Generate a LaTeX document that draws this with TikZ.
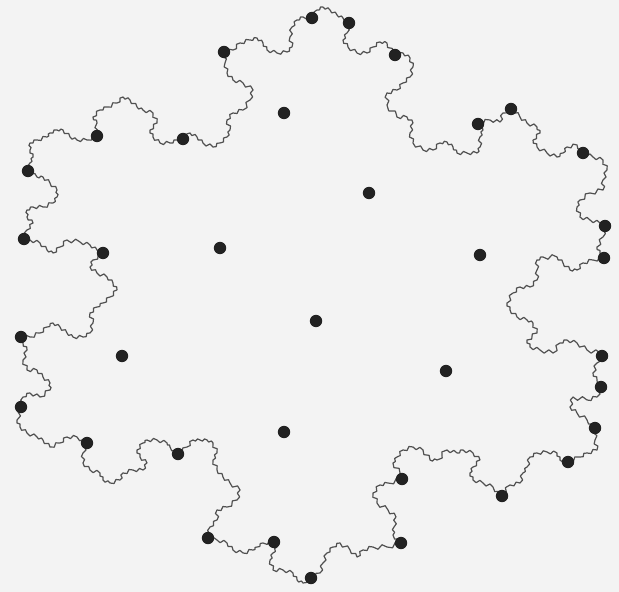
\documentclass[tikz,border=0pt]{standalone}
\usepackage{xcolor}
\usepackage{tikz}
\usetikzlibrary{decorations}
\definecolor{flakeInk}{HTML}{505050}
\definecolor{flakeDot}{HTML}{222222}
\definecolor{flakePaper}{HTML}{F3F3F3}
% one Gosper-like step on every straight piece
\pgfdeclaredecoration{gosper edge}{draw}{
  \state{draw}[width=\pgfdecoratedinputsegmentremainingdistance]{
    \pgfpathlineto{\pgfpointorigin}
    \pgfpathlineto{\pgfpoint{.357143\pgfdecoratedinputsegmentremainingdistance}
                            {-.16\pgfdecoratedinputsegmentremainingdistance}}
    \pgfpathlineto{\pgfpoint{.642857\pgfdecoratedinputsegmentremainingdistance}
                            {.16\pgfdecoratedinputsegmentremainingdistance}}
    \pgfpathlineto{\pgfpoint{\pgfdecoratedinputsegmentremainingdistance}{0pt}}
  }
  \state{final}{\pgfpathlineto{\pgfpointdecoratedpathlast}}
}
\tikzset{
  flakeline/.style={draw=flakeInk,line width=0.6pt,line join=round,
                    decorate,decoration={gosper edge}},
  site/.style={circle,fill=flakeDot,minimum size=6.2pt,inner sep=0pt},
  paper/.style={fill=flakePaper}
}

\begin{document}
\begin{tikzpicture}[x=0.5pt,y=-0.5pt]
  \fill[paper] (0,0) rectangle (619,592);
  \useasboundingbox (0,0) rectangle (619,592);

  % the island boundary, clockwise from the top
  \draw[flakeline]
    (312,18) -- (317,10) -- (323,7) -- (330,10) -- (337,15) -- (343,18) -- (349,23)
    -- (347,33) -- (343,40) -- (348,47) -- (357,53) -- (367,53) -- (373,47) -- (380,42)
    -- (387,43) -- (393,53) -- (395,55)
    -- (403,53) -- (410,58) -- (413,67) -- (410,77) -- (403,83) -- (397,90) -- (387,93)
    -- (387,105) -- (397,117) -- (407,117) -- (413,123) -- (410,133) -- (413,143)
    -- (423,150) -- (433,150) -- (440,143) -- (447,142) -- (453,147) -- (457,153)
    -- (467,153) -- (477,153) -- (480,147) -- (480,137) -- (483,130) -- (478,124)
    -- (490,120) -- (500,122) -- (503,113) -- (511,109) -- (520,117) -- (527,123)
    -- (537,127) -- (540,133) -- (533,140) -- (537,147) -- (547,153) -- (557,157)
    -- (563,153) -- (567,147) -- (577,145) -- (583,153)
    -- (593,157) -- (603,160) -- (607,170) -- (603,180) -- (603,190) -- (590,193)
    -- (580,200) -- (577,207) -- (580,217) -- (590,220) -- (600,223) -- (605,226)
    -- (603,237) -- (597,247) -- (600,253) -- (604,258)
    -- (593,260) -- (583,263) -- (577,270) -- (570,270) -- (563,263) -- (557,257)
    -- (543,257) -- (537,260) -- (537,270) -- (537,280) -- (530,287) -- (520,287)
    -- (513,293) -- (507,303) -- (510,310) -- (517,317) -- (527,320) -- (533,323)
    -- (537,333) -- (527,340) -- (530,347) -- (540,350) -- (553,353) -- (560,343)
    -- (567,340) -- (577,343) -- (587,350) -- (600,353) -- (602,356)
    -- (597,363) -- (593,373) -- (597,380) -- (601,387) -- (597,397) -- (587,400)
    -- (573,397) -- (570,407) -- (577,413) -- (587,420) -- (595,428)
    -- (595,440) -- (597,450) -- (587,453) -- (580,457) -- (568,462) -- (560,460)
    -- (557,453) -- (547,452) -- (537,453) -- (530,457) -- (527,467) -- (523,473)
    -- (520,483) -- (510,485) -- (502,496)
    -- (493,487) -- (483,483) -- (473,480) -- (470,473) -- (473,467) -- (480,460)
    -- (473,453) -- (463,450) -- (457,453) -- (447,450) -- (437,460) -- (430,460)
    -- (423,450) -- (413,447) -- (403,450) -- (397,457) -- (393,463) -- (400,473)
    -- (402,479)
    -- (388,483) -- (380,485) -- (373,493) -- (377,503) -- (388,510) -- (396,517)
    -- (394,527) -- (393,535) -- (401,543)
    -- (387,547) -- (373,547) -- (363,550) -- (357,557) -- (350,550) -- (340,543)
    -- (333,547) -- (327,553) -- (323,563) -- (320,573) -- (311,578)
    -- (303,583) -- (297,580) -- (293,573) -- (283,570) -- (273,570) -- (270,560)
    -- (273,553) -- (277,547) -- (274,542)
    -- (263,543) -- (257,547) -- (253,550) -- (243,553) -- (233,550) -- (227,543)
    -- (217,540) -- (208,538)
    -- (210,527) -- (217,520) -- (217,510) -- (227,507) -- (237,500) -- (240,490)
    -- (230,483) -- (223,477) -- (217,470) -- (213,460) -- (217,453) -- (213,443)
    -- (207,440) -- (200,440) -- (193,440) -- (187,447) -- (178,454)
    -- (170,447) -- (167,443) -- (157,440) -- (147,440) -- (143,443) -- (137,450)
    -- (140,457) -- (147,463) -- (143,470) -- (133,470) -- (123,473) -- (120,480)
    -- (110,483) -- (103,480) -- (100,473) -- (90,470) -- (83,463) -- (83,453)
    -- (87,443)
    -- (77,437) -- (67,437) -- (60,443) -- (50,447) -- (43,440) -- (37,437)
    -- (27,433) -- (20,427) -- (17,420) -- (21,407)
    -- (23,397) -- (30,393) -- (40,397) -- (50,390) -- (50,383) -- (43,377)
    -- (37,370) -- (27,370) -- (23,360) -- (27,350) -- (23,343) -- (21,337)
    -- (30,337) -- (40,333) -- (47,327) -- (53,323) -- (60,327) -- (67,333)
    -- (73,337) -- (83,337) -- (90,333) -- (93,323) -- (90,313) -- (97,307)
    -- (103,303) -- (110,297) -- (117,290) -- (113,283) -- (107,277) -- (97,273)
    -- (90,267) -- (93,260) -- (103,253)
    -- (97,250) -- (90,245) -- (80,242) -- (67,240) -- (60,247) -- (53,253)
    -- (47,250) -- (40,243) -- (30,240) -- (24,239)
    -- (27,230) -- (33,223) -- (27,217) -- (27,210) -- (33,207) -- (43,207)
    -- (53,203) -- (57,197) -- (57,190) -- (50,183) -- (43,177) -- (37,177)
    -- (28,171)
    -- (30,163) -- (33,157) -- (30,150) -- (30,143) -- (37,140) -- (47,137)
    -- (50,133) -- (57,130) -- (63,130) -- (70,137) -- (77,140) -- (87,140)
    -- (97,136)
    -- (97,123) -- (93,117) -- (100,110) -- (107,107) -- (117,103) -- (123,97)
    -- (130,100) -- (137,107) -- (143,110) -- (153,113) -- (157,123) -- (150,130)
    -- (153,137) -- (160,143) -- (170,143) -- (177,140) -- (183,139)
    -- (190,133) -- (197,137) -- (203,143) -- (213,147) -- (220,143) -- (227,137)
    -- (230,130) -- (227,120) -- (233,113) -- (243,110) -- (250,100) -- (253,90)
    -- (243,83) -- (233,80) -- (227,73) -- (225,63) -- (224,52)
    -- (233,50) -- (240,43) -- (250,40) -- (257,38) -- (263,43) -- (267,50)
    -- (277,53) -- (287,52) -- (292,47) -- (290,37) -- (292,27) -- (297,20)
    -- (303,17) -- cycle;

  % sites on the boundary
  \foreach \x/\y [count=\k] in {312/18,349/23,395/55,478/124,511/109,583/153,
      605/226,604/258,602/356,601/387,595/428,568/462,502/496,402/479,
      401/543,311/578,274/542,208/538,178/454,87/443,21/407,21/337,
      103/253,24/239,28/171,97/136,183/139,224/52}
    \node[site] (b\k) at (\x,\y) {};

  % sites inside
  \foreach \x/\y [count=\k] in {284/113,369/193,220/248,480/255,316/321,
      122/356,446/371,284/432}
    \node[site] (i\k) at (\x,\y) {};
\end{tikzpicture}
\end{document}
